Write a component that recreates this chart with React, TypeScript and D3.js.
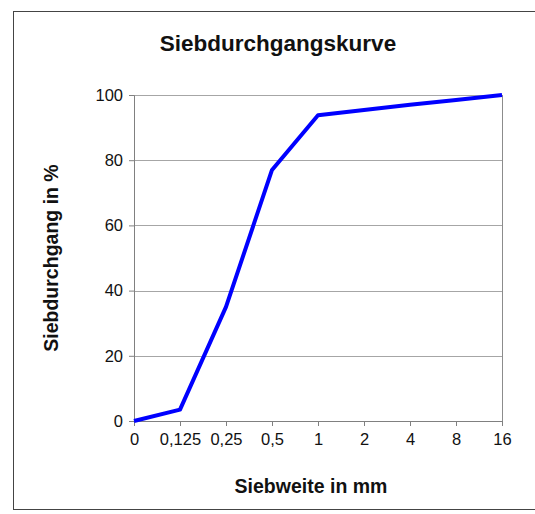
import React, { useEffect, useRef } from "react"
import * as d3 from "d3"

const sieveSizes: string[] = ["0", "0,125", "0,25", "0,5", "1", "2", "4", "8", "16"]
const passing: number[] = [0, 3.5, 35, 77, 93.8, 95.4, 97, 98.5, 100]
const yTicks: number[] = [0, 20, 40, 60, 80, 100]

export default function App() {
  const svgRef = useRef<SVGSVGElement>(null)

  useEffect(() => {
    if (!svgRef.current) return
    const root = d3.select(svgRef.current)
    root.selectAll("*").remove()

    const W = 535
    const H = 514
    const margin = { top: 95, right: 33, bottom: 93, left: 134 }
    const width = W - margin.left - margin.right
    const height = H - margin.top - margin.bottom
    const font = "'Liberation Sans', Arial, sans-serif"

    root.attr("width", W).attr("height", H)

    // outer frame (open at right / bottom like the screenshot crop)
    root.append("rect")
      .attr("x", 13.5).attr("y", 11.5)
      .attr("width", 700).attr("height", 498)
      .attr("fill", "#ffffff")
      .attr("stroke", "#444")
      .attr("stroke-width", 1)

    root.append("text")
      .attr("x", 278).attr("y", 51)
      .attr("text-anchor", "middle")
      .attr("font-family", font)
      .attr("font-size", "22.5px")
      .attr("font-weight", "bold")
      .attr("fill", "#111")
      .text("Siebdurchgangskurve")

    const g = root.append("g")
      .attr("transform", `translate(${margin.left},${margin.top})`)

    const x = d3.scalePoint<string>().domain(sieveSizes).range([0, width])
    const y = d3.scaleLinear().domain([0, 100]).range([height, 0])

    // grid lines
    g.selectAll(".grid")
      .data(yTicks.filter(t => t > 0))
      .enter()
      .append("line")
      .attr("x1", 0).attr("x2", width)
      .attr("y1", d => Math.round(y(d)) + 0.5)
      .attr("y2", d => Math.round(y(d)) + 0.5)
      .attr("stroke", "#a6a6a6")
      .attr("stroke-width", 1)

    // right border of plot
    g.append("line")
      .attr("x1", width + 0.5).attr("x2", width + 0.5)
      .attr("y1", 0).attr("y2", height)
      .attr("stroke", "#8c8c8c")

    // y axis
    const yAxis = g.append("g")
      .call(d3.axisLeft(y).tickValues(yTicks).tickSize(5).tickPadding(6))
    yAxis.select(".domain").attr("stroke", "#808080")
    yAxis.selectAll("line").attr("stroke", "#808080")
    yAxis.selectAll("text")
      .attr("fill", "#111")
      .attr("font-family", font)
      .attr("font-size", "16.5px")

    // x axis
    const xAxis = g.append("g")
      .attr("transform", `translate(0,${height})`)
      .call(d3.axisBottom(x).tickSize(5).tickPadding(7))
    xAxis.select(".domain").attr("stroke", "#808080")
    xAxis.selectAll("line").attr("stroke", "#808080")
    xAxis.selectAll("text")
      .attr("fill", "#111")
      .attr("font-family", font)
      .attr("font-size", "16.5px")

    // curve
    const line = d3.line<number>()
      .x((_, i) => x(sieveSizes[i]) || 0)
      .y(d => y(d))
    g.append("path")
      .datum(passing)
      .attr("d", line)
      .attr("fill", "none")
      .attr("stroke", "#0000ff")
      .attr("stroke-width", 4)
      .attr("stroke-linejoin", "round")

    // axis titles
    root.append("text")
      .attr("x", 311).attr("y", 493)
      .attr("text-anchor", "middle")
      .attr("font-family", font)
      .attr("font-size", "19.5px")
      .attr("font-weight", "bold")
      .attr("fill", "#111")
      .text("Siebweite in mm")

    root.append("text")
      .attr("transform", `translate(58,258) rotate(-90)`)
      .attr("text-anchor", "middle")
      .attr("font-family", font)
      .attr("font-size", "19.5px")
      .attr("font-weight", "bold")
      .attr("fill", "#111")
      .text("Siebdurchgang in %")
  }, [])

  return (
    <div style={{ position: "absolute", left: 0, top: 0 }}>
      <svg ref={svgRef} style={{ display: "block" }}></svg>
    </div>
  )
}
